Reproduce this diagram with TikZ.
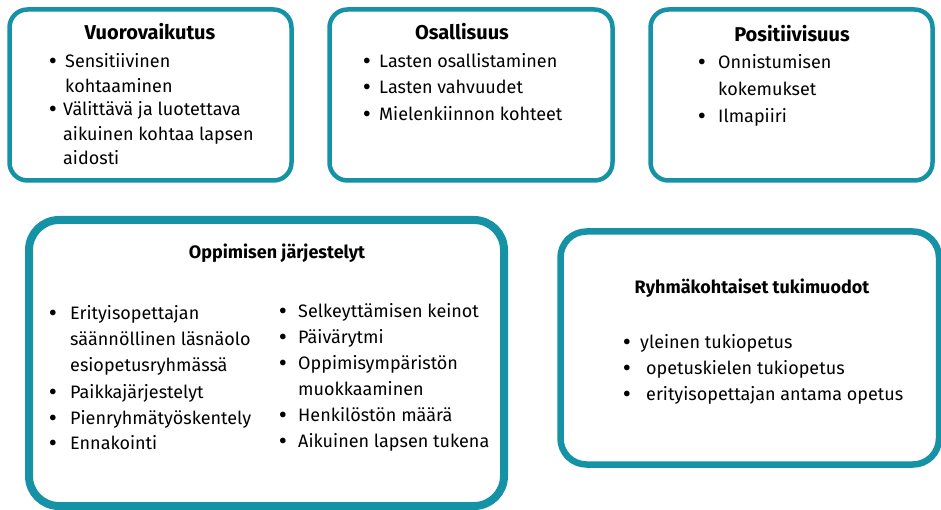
\documentclass[tikz,border=0pt]{standalone}
\usepackage{fontspec}
\setmainfont{Fira Sans}
\definecolor{teal}{RGB}{22,146,166}
\newcommand{\mlines}[1]{\begin{tabular}[t]{@{}l@{}}#1\end{tabular}}
\begin{document}
\begin{tikzpicture}[x=1pt,y=-1pt,
  frame/.style={draw=teal,rounded corners=18pt,line width=4.5pt},
  bigframe/.style={draw=teal,rounded corners=30pt,line width=8pt},
  midframe/.style={draw=teal,rounded corners=26pt,line width=6.5pt},
  ttl/.style={font=\fontsize{20}{24}\selectfont\bfseries,inner sep=0pt,anchor=base},
  ttlb/.style={font=\fontsize{18}{22}\selectfont\bfseries,inner sep=0pt,anchor=base},
  itmA/.style={font=\fontsize{18}{24.5}\selectfont,inner sep=0pt,anchor=base west,yshift=-1pt},
  itm/.style={font=\fontsize{18}{26}\selectfont,inner sep=0pt,anchor=base west,yshift=-1pt},
  itmC/.style={font=\fontsize{18}{27}\selectfont,inner sep=0pt,anchor=base west,yshift=-1pt},
  bul/.style={font=\fontsize{25}{26}\selectfont,inner sep=0pt,anchor=base,yshift=-3pt}]
\useasboundingbox (0,0) rectangle (941,510);
\fill[white] (0,0) rectangle (941,510);
% frames
\draw[frame] (9.5,9.5) rectangle (291.5,180.5);
\draw[frame] (329.5,9.5) rectangle (612.5,180.5);
\draw[frame] (650.5,9.5) rectangle (932.5,180.5);
\draw[bigframe] (29,220) rectangle (504,506);
\draw[midframe] (560.5,231.5) rectangle (939,464.5);
% box 1
\node[ttl] (t1) at (150,40) {Vuorovaikutus};
\node[bul] (b11) at (53,67) {•};
\node[itmA] (i11) at (65,67) {\mlines{Sensitiivinen\\kohtaaminen}};
\node[bul] (b12) at (53,115) {•};
\node[itmA] (i12) at (63,115) {\mlines{Välittävä ja luotettava\\aikuinen kohtaa lapsen\\aidosti}};
% box 2
\node[ttl] (t2) at (462,40) {Osallisuus};
\node[bul] (b21) at (367,67) {•};
\node[itm] (i21) at (379,67) {Lasten osallistaminen};
\node[bul] (b22) at (367,93) {•};
\node[itm] (i22) at (379,93) {Lasten vahvuudet};
\node[bul] (b23) at (367,120) {•};
\node[itm] (i23) at (379,120) {Mielenkiinnon kohteet};
% box 3
\node[ttl] (t3) at (792,42) {Positiivisuus};
\node[bul] (b31) at (702,68) {•};
\node[itmC] (i31) at (718,68) {\mlines{Onnistumisen\\kokemukset}};
\node[bul] (b32) at (702,122) {•};
\node[itm] (i32) at (718,122) {Ilmapiiri};
% box 4
\node[ttlb] (t4) at (277,259) {Oppimisen järjestelyt};
\node[bul] (b41) at (53,318) {•};
\node[itm] (i41) at (70,318) {\mlines{Erityisopettajan\\säännöllinen läsnäolo\\esiopetusryhmässä}};
\node[bul] (b42) at (53,397) {•};
\node[itm] (i42) at (70,397) {Paikkajärjestelyt};
\node[bul] (b43) at (53,423) {•};
\node[itm] (i43) at (70,423) {Pienryhmätyöskentely};
\node[bul] (b44) at (53,448) {•};
\node[itm] (i44) at (70,448) {Ennakointi};
\node[bul] (b45) at (283,316) {•};
\node[itm] (i45) at (298,316) {Selkeyttämisen keinot};
\node[bul] (b46) at (283,342) {•};
\node[itm] (i46) at (298,342) {Päivärytmi};
\node[bul] (b47) at (283,368) {•};
\node[itm] (i47) at (298,368) {\mlines{Oppimisympäristön\\muokkaaminen}};
\node[bul] (b48) at (283,420) {•};
\node[itm] (i48) at (298,420) {Henkilöstön määrä};
\node[bul] (b49) at (283,446) {•};
\node[itm] (i49) at (298,446) {Aikuinen lapsen tukena};
% box 5
\node[ttlb] (t5) at (752,293) {Ryhmäkohtaiset tukimuodot};
\node[bul] (b51) at (627,347) {•};
\node[itm] (i51) at (640,347) {yleinen tukiopetus};
\node[bul] (b52) at (627,373) {•};
\node[itm] (i52) at (646,373) {opetuskielen tukiopetus};
\node[bul] (b53) at (627,399) {•};
\node[itm] (i53) at (646,399) {erityisopettajan antama opetus};
\end{tikzpicture}
\end{document}
